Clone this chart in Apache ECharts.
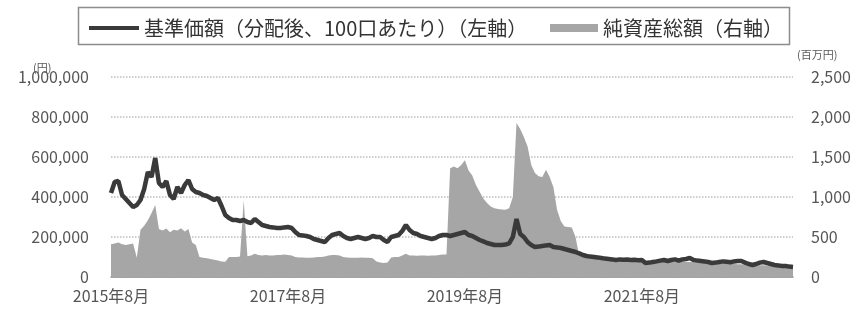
<!DOCTYPE html>
<html>
<head>
<meta charset="utf-8">
<script src="https://cdn.jsdelivr.net/npm/echarts@6/dist/echarts.min.js"></script>
<style>
    html, body { margin: 0; padding: 0; background: #fff; }
    #main { width: 856px; height: 314px; }
</style>
</head>
<body>
<div id="main"></div>
<script type="text/javascript">
    // 半月ごとのデータ（2015年8月前半 〜 2023年4月後半）
    var startYear = 2015, startMonth = 8, pointCount = 186;
    var tickLabels = ['2015年8月', '2017年8月', '2019年8月', '2021年8月'];

    // 基準価額（分配後、100口あたり）単位：千円
    var navK = [
        420, 475, 480, 410, 390, 370, 350, 360, 385, 440,
        525, 500, 595, 470, 450, 480, 410, 390, 450, 420,
        460, 485, 440, 425, 420, 410, 405, 395, 385, 395,
        355, 310, 295, 285, 285, 280, 285, 275, 270, 290,
        275, 260, 255, 250, 248, 245, 245, 248, 250, 245,
        225, 210, 208, 205, 200, 190, 185, 180, 175, 195,
        210, 215, 220, 205, 195, 190, 195, 200, 195, 190,
        195, 205, 200, 200, 185, 175, 200, 205, 210, 230,
        260, 235, 220, 215, 205, 200, 195, 190, 195, 205,
        210, 210, 205, 210, 215, 220, 225, 210, 205, 195,
        185, 178, 170, 165, 160, 160, 160, 162, 168, 200,
        290, 215, 200, 175, 160, 150, 152, 155, 158, 160,
        150, 148, 145, 140, 135, 130, 125, 118, 110, 105,
        102, 100, 98, 95, 92, 90, 88, 85, 88, 86,
        87, 85, 86, 84, 85, 70, 72, 75, 78, 82,
        85, 80, 85, 88, 82, 88, 90, 95, 85, 82,
        80, 78, 75, 70, 72, 75, 78, 76, 74, 78,
        80, 80, 72, 65, 60, 65, 72, 75, 70, 65,
        60, 58, 55, 55, 52, 50
    ];

    // 純資産総額 単位：百万円
    var netAssets = [
        410, 420, 430, 410, 400, 410, 420, 240, 590, 640,
        710, 800, 900, 600, 580, 605, 560, 590, 580, 610,
        570, 600, 430, 400, 250, 240, 235, 225, 215, 205,
        195, 190, 250, 250, 250, 255, 960, 260, 270, 290,
        275, 270, 275, 270, 270, 275, 275, 280, 275, 270,
        250, 245, 245, 240, 240, 245, 250, 250, 255, 270,
        275, 275, 270, 250, 245, 240, 240, 240, 245, 240,
        240, 235, 195, 180, 175, 180, 245, 250, 250, 270,
        290, 270, 270, 265, 270, 270, 265, 270, 270, 275,
        280, 280, 1360, 1380, 1360, 1400, 1460, 1330, 1270, 1150,
        1065, 980, 925, 880, 860, 850, 845, 840, 860, 1000,
        1925, 1850, 1750, 1630, 1400, 1300, 1260, 1250, 1340, 1250,
        1125, 840, 700, 630, 625, 620, 500, 270, 260, 255,
        250, 248, 245, 240, 238, 235, 232, 228, 225, 222,
        220, 216, 212, 208, 204, 200, 199, 198, 197, 196,
        195, 194, 193, 192, 191, 190, 188, 186, 184, 182,
        180, 178, 176, 174, 172, 170, 168, 166, 164, 162,
        160, 158, 156, 154, 152, 150, 148, 146, 144, 142,
        140, 138, 136, 134, 132, 130
    ];

    var lineName = '基準価額（分配後、100口あたり）（左軸）';
    var areaName = '純資産総額（右軸）';

    // カテゴリ（半月単位）
    var categories = [];
    for (var i = 0; i < pointCount; i++) {
        var m = startMonth - 1 + Math.floor(i / 2);
        var y = startYear + Math.floor(m / 12);
        categories.push(y + '/' + (m % 12 + 1) + '/' + (i % 2 === 0 ? '1' : '16'));
    }

    var fontFamily = '"Noto Sans CJK JP", "Noto Sans", sans-serif';
    var myChart = echarts.init(document.getElementById('main'));

    var option = {
        animation: false,
        textStyle: { fontFamily: fontFamily },
        graphic: [
            {
                type: 'rect',
                shape: { x: 78.5, y: 7.5, width: 711, height: 37 },
                style: { fill: 'none', stroke: '#8c8c8c', lineWidth: 1.5 }
            },
            {
                type: 'text', left: 33, top: 62,
                style: { text: '(円)', fontSize: 11, fill: '#595959', fontFamily: fontFamily }
            },
            {
                type: 'text', left: 797, top: 49,
                style: { text: '(百万円)', fontSize: 11, fill: '#595959', fontFamily: fontFamily }
            }
        ],
        legend: [
            {
                data: [lineName],
                left: 84, top: 13,
                icon: 'rect',
                itemWidth: 50, itemHeight: 4,
                itemGap: 4,
                textStyle: { fontSize: 20, color: '#333', fontFamily: fontFamily }
            },
            {
                data: [areaName],
                left: 545, top: 13,
                icon: 'rect',
                itemWidth: 48, itemHeight: 8,
                textStyle: { fontSize: 20, color: '#333', fontFamily: fontFamily }
            }
        ],
        grid: { left: 111, right: 63, top: 77, bottom: 37 },
        xAxis: {
            type: 'category',
            boundaryGap: false,
            data: categories,
            axisLine: { lineStyle: { color: '#8f8f8f', width: 1.5 } },
            axisTick: {
                inside: true, length: 3,
                interval: function (index) { return index % 24 === 0; },
                lineStyle: { color: '#777' }
            },
            axisLabel: {
                interval: function (index) { return index % 48 === 0; },
                formatter: function (value) {
                    var p = value.split('/');
                    var label = p[0] + '年' + p[1] + '月';
                    return tickLabels.indexOf(label) >= 0 ? label : '';
                },
                fontSize: 16, color: '#555', margin: 11,
                fontFamily: fontFamily
            },
            splitLine: { show: false }
        },
        yAxis: [
            {
                type: 'value',
                min: 0, max: 1000000, interval: 200000,
                axisLine: { show: false },
                axisTick: { show: false },
                axisLabel: {
                    fontSize: 16, color: '#555', margin: 22,
                    fontFamily: fontFamily,
                    formatter: function (v) { return v.toLocaleString('en-US'); }
                },
                splitLine: { lineStyle: { color: '#bdbdbd', type: 'dotted', width: 1.5 } }
            },
            {
                type: 'value',
                min: 0, max: 2500, interval: 500,
                axisLine: { show: false },
                axisTick: { show: false },
                axisLabel: {
                    fontSize: 16, color: '#555', margin: 18, align: 'left',
                    fontFamily: fontFamily,
                    formatter: function (v) { return v.toLocaleString('en-US'); }
                },
                splitLine: { show: false }
            }
        ],
        series: [
            {
                name: areaName,
                type: 'line',
                yAxisIndex: 1,
                data: netAssets,
                symbol: 'none',
                itemStyle: { color: '#a6a6a6' },
                lineStyle: { width: 0 },
                areaStyle: { color: '#a6a6a6', opacity: 1 },
                z: 2
            },
            {
                name: lineName,
                type: 'line',
                yAxisIndex: 0,
                data: navK.map(function (v) { return v * 1000; }),
                symbol: 'none',
                itemStyle: { color: '#3a3a3a' },
                lineStyle: { color: '#3a3a3a', width: 4.5 },
                z: 3
            }
        ]
    };

    myChart.setOption(option);
</script>
</body>
</html>
